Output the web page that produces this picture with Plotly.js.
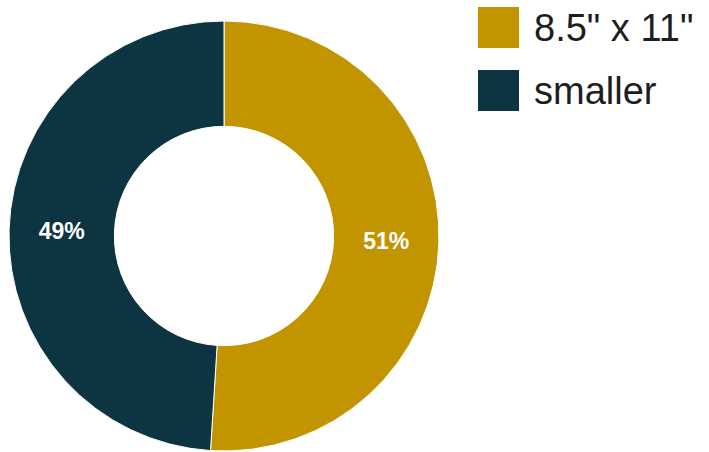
<!DOCTYPE html>
<html>
<head>
<meta charset="utf-8">
<script src="https://cdn.plot.ly/plotly-3.0.1.min.js"></script>
<style>html,body{margin:0;padding:0;background:#fff;}#chart{width:709px;height:452px;}</style>
</head>
<body>
<div id="chart"></div>
<script>
const categories = ['8.5" x 11"', 'smaller'];
const values = [51, 49];
const colors = ['#C29400', '#0C3441'];

const W = 709, H = 452;
const px = x => x / W;
const py = y => 1 - y / H;

const shapes = [];
const annotations = [];
const swatchTops = [7, 70];
categories.forEach((c, i) => {
  const t = swatchTops[i];
  shapes.push({type: 'rect', xref: 'paper', yref: 'paper',
    x0: px(478), x1: px(519), y0: py(t + 41), y1: py(t),
    fillcolor: colors[i], line: {width: 0}});
  annotations.push({xref: 'paper', yref: 'paper', x: px(532), y: py(t + 21),
    xanchor: 'left', yanchor: 'middle', showarrow: false, text: c,
    font: {family: 'Liberation Sans, Arial, sans-serif', size: 38, color: '#1e1e1e'}});
});

const trace = {
  type: 'pie',
  labels: categories,
  values: values,
  hole: 0.51,
  sort: false,
  direction: 'clockwise',
  rotation: 0,
  marker: {colors: colors, line: {color: '#ffffff', width: 1}},
  textinfo: 'percent',
  textposition: 'inside',
  insidetextorientation: 'horizontal',
  textfont: {family: 'Liberation Sans, Arial, sans-serif', size: 23, color: '#ffffff', weight: 'bold'},
  domain: {x: [px(9), px(439)], y: [py(451), py(21)]},
  showlegend: false,
  hoverinfo: 'label+percent'
};

Plotly.newPlot('chart', [trace], {
  width: W, height: H,
  margin: {l: 0, r: 0, t: 0, b: 0},
  paper_bgcolor: '#ffffff',
  plot_bgcolor: '#ffffff',
  showlegend: false,
  shapes: shapes,
  annotations: annotations
}, {displayModeBar: false, staticPlot: true});
</script>
</body>
</html>
